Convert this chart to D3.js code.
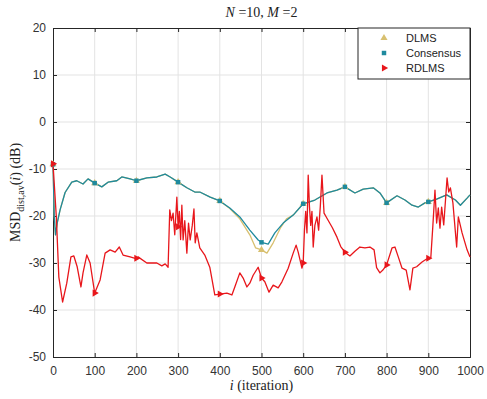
<!DOCTYPE html>
<html>
<head>
<meta charset="utf-8">
<script src="https://cdn.jsdelivr.net/npm/d3@7"></script>
<style>
  body { margin: 0; background: #fff; }
  svg { display: block; }
</style>
</head>
<body>
<div id="chart"></div>
<script>
// values, [iteration, MSD dB]
const consensus = [
  [0, -9], [3, -20], [6, -24], [10, -21.5], [17, -18.7], [29, -15], [45, -12.8], [57, -12.5],
  [72, -13.2], [84, -12.1], [100, -13], [117, -13.8], [132, -12.8], [153, -12.5], [165, -11.7],
  [185, -12.1], [200, -12.5], [225, -11.9], [249, -11.7], [269, -11.1], [281, -11.7], [300, -12.8],
  [321, -14], [340, -14.9], [352, -14.9], [377, -16], [400, -16.8], [424, -18.3], [448, -20.2],
  [472, -23], [492, -25.1], [500, -25.6], [516, -26], [532, -23.6], [552, -21.5], [576, -19.8],
  [600, -17.4], [628, -16.6], [657, -15.1], [681, -14.5], [700, -13.8], [724, -15.1], [744, -14.3],
  [768, -14], [784, -15.1], [800, -17.2], [825, -15.7], [844, -16.6], [861, -17.7], [876, -18.1],
  [892, -17.2], [900, -17], [920, -16.4], [944, -15.5], [965, -16.6], [977, -17.7], [993, -16.2],
  [1000, -15.5]
];

const dlms = [
  [0, -9], [3, -20], [6, -24], [10, -21.5], [17, -18.7], [29, -15], [45, -12.8], [57, -12.5],
  [72, -13.2], [84, -12.1], [100, -13], [117, -13.8], [132, -12.8], [153, -12.5], [165, -11.7],
  [185, -12.1], [200, -12.5], [225, -11.9], [249, -11.7], [269, -11.1], [281, -11.7], [300, -12.8],
  [321, -14], [340, -14.9], [352, -14.9], [377, -16], [400, -16.8], [424, -18.4], [448, -20.6],
  [472, -24], [486, -26.8], [500, -27.2], [513, -27.9], [528, -25.7], [545, -22.6], [560, -20.6],
  [576, -19.8], [600, -17.4], [628, -16.6], [657, -15.1], [681, -14.5], [700, -13.8], [724, -15.1],
  [744, -14.3], [768, -14], [784, -15.1], [800, -17.2], [825, -15.7], [844, -16.6], [861, -17.7],
  [876, -18.1], [892, -17.2], [900, -17], [920, -16.4], [944, -15.5], [965, -16.6], [977, -17.7],
  [993, -16.2], [1000, -15.5]
];

const rdlms = [
  [0, -8.9], [8, -20.2], [14, -33], [23, -38.3], [33, -34.3], [43, -28.7], [50, -28.5], [58, -30.8],
  [67, -35.1], [72, -32.1], [81, -28.3], [89, -30], [100, -36.4], [113, -33.6], [125, -27.9],
  [137, -27.2], [149, -27.7], [159, -26.6], [168, -28.3], [185, -28.7], [197, -29], [200, -29],
  [204, -28.7], [225, -30], [249, -30], [261, -30.6], [269, -30.2], [276, -30.9], [280, -18.7],
  [284, -21], [288, -19.4], [292, -24], [297, -16], [300, -22.3], [303, -19], [306, -25],
  [309, -17.7], [312, -25.1], [316, -21], [321, -27.9], [325, -21.5], [329, -25.1], [334, -22],
  [338, -18.5], [341, -25.7], [345, -23.6], [352, -26.8], [364, -28.3], [376, -30.9], [388, -36.8],
  [400, -36.6], [417, -36.4], [429, -36.8], [436, -35.1], [448, -32.1], [456, -33.2], [465, -35.1],
  [472, -34.3], [480, -32.6], [492, -30.9], [500, -33.2], [508, -34], [518, -36.2], [528, -34.7],
  [540, -35.3], [549, -34], [564, -31.1], [576, -27.9], [583, -26.2], [588, -27.7], [597, -31.1],
  [600, -30], [603, -23], [606, -19], [609, -23.6], [612, -11.3], [615, -18], [618, -22],
  [621, -19], [624, -26.6], [628, -22], [633, -20.2], [637, -23], [641, -18], [645, -11.3],
  [650, -19.4], [659, -20.8], [670, -22.5], [681, -24.5], [690, -26.5], [700, -27.7], [712, -28.5],
  [724, -27.5], [736, -26.6], [748, -26.8], [760, -26.6], [770, -27.2], [776, -31], [784, -32.1],
  [791, -31.5], [800, -30.4], [813, -26.8], [820, -26.6], [828, -28.7], [837, -31.1], [847, -31.5],
  [856, -35.7], [863, -31.1], [872, -30.8], [885, -29.8], [895, -29.2], [900, -29], [906, -28.9],
  [911, -22], [916, -14.5], [920, -21.5], [924, -18.3], [928, -22.6], [932, -18.1], [937, -21.9],
  [945, -11.9], [949, -14.9], [953, -14], [959, -17.2], [968, -26.6], [972, -20.2], [981, -23.6],
  [993, -27.2], [1000, -28.7]
];

const xTicks = [0, 100, 200, 300, 400, 500, 600, 700, 800, 900, 1000];
const yTicks = [-50, -40, -30, -20, -10, 0, 10, 20];
const seriesNames = ["DLMS", "Consensus", "RDLMS"];
const seriesColors = ["#d8c070", "#1f8a9e", "#e8161b"];

const width = 487, height = 399;
const margin = { top: 28, right: 17, bottom: 42, left: 53 };
const w = width - margin.left - margin.right;
const h = height - margin.top - margin.bottom;

const svg = d3.select("#chart").append("svg")
  .attr("width", width)
  .attr("height", height);

const g = svg.append("g")
  .attr("transform", `translate(${margin.left},${margin.top})`);

const x = d3.scaleLinear().domain([0, 1000]).range([0, w]);
const y = d3.scaleLinear().domain([-50, 20]).range([h, 0]);

// grid
g.append("g").selectAll("line.gx").data(xTicks.slice(1, -1)).join("line")
  .attr("x1", d => x(d)).attr("x2", d => x(d))
  .attr("y1", 0).attr("y2", h)
  .attr("stroke", "#e3e3e3").attr("stroke-width", 1);
g.append("g").selectAll("line.gy").data(yTicks.slice(1, -1)).join("line")
  .attr("x1", 0).attr("x2", w)
  .attr("y1", d => y(d)).attr("y2", d => y(d))
  .attr("stroke", "#e3e3e3").attr("stroke-width", 1);

// axes with inward ticks, plain hyphen for negatives
const axisColor = "#262626";
const plain = d => String(d);
g.append("g").attr("transform", `translate(0,${h})`)
  .call(d3.axisBottom(x).tickValues(xTicks).tickSize(-4).tickPadding(9).tickFormat(plain));
g.append("g")
  .call(d3.axisLeft(y).tickValues(yTicks).tickSize(-4).tickPadding(7).tickFormat(plain));
g.append("g")
  .call(d3.axisTop(x).tickValues(xTicks).tickSize(-4).tickFormat(""));
g.append("g").attr("transform", `translate(${w},0)`)
  .call(d3.axisRight(y).tickValues(yTicks).tickSize(-4).tickFormat(""));

g.selectAll(".domain").attr("stroke", axisColor);
g.selectAll(".tick line").attr("stroke", axisColor);
g.selectAll(".tick text")
  .attr("fill", "#333")
  .style("font-family", "Liberation Sans, Arial, sans-serif")
  .style("font-size", "12px");

// lines
const line = d3.line().x(d => x(d[0])).y(d => y(d[1]));
const allSeries = [dlms, consensus, rdlms];

allSeries.forEach((data, k) => {
  g.append("path")
    .datum(data)
    .attr("fill", "none")
    .attr("stroke", seriesColors[k])
    .attr("stroke-width", 1.3)
    .attr("stroke-linejoin", "round")
    .attr("d", line);
});

// markers every 100 iterations
const triUp = d3.symbol().type(d3.symbolTriangle).size(22);
const square = d3.symbol().type(d3.symbolSquare).size(20);
function markerPath(k) {
  return k === 1 ? square() : triUp();
}
function markerRotate(k) {
  return k === 2 ? " rotate(90)" : "";
}

allSeries.forEach((data, k) => {
  g.append("g").selectAll("path")
    .data(data.filter(d => d[0] % 100 === 0 && d[0] < 1000))
    .join("path")
    .attr("d", markerPath(k))
    .attr("transform", d => `translate(${x(d[0])},${y(d[1])})${markerRotate(k)}`)
    .attr("fill", seriesColors[k]);
});

// title
svg.append("text")
  .attr("x", margin.left + w / 2)
  .attr("y", 17)
  .attr("text-anchor", "middle")
  .style("font-family", "Liberation Serif, DejaVu Serif, serif")
  .style("font-size", "14px")
  .attr("fill", "#222")
  .html('<tspan font-style="italic">N</tspan> =10, <tspan font-style="italic">M</tspan> =2');

// x label
svg.append("text")
  .attr("x", margin.left + w / 2)
  .attr("y", 390)
  .attr("text-anchor", "middle")
  .style("font-family", "Liberation Serif, DejaVu Serif, serif")
  .style("font-size", "14px")
  .attr("fill", "#222")
  .html('<tspan font-style="italic">i</tspan> (iteration)');

// y label
svg.append("text")
  .attr("transform", `translate(20,${margin.top + h / 2}) rotate(-90)`)
  .attr("text-anchor", "middle")
  .style("font-family", "Liberation Serif, DejaVu Serif, serif")
  .style("font-size", "14px")
  .attr("fill", "#222")
  .html('MSD<tspan dy="4" font-size="10px">dist,av</tspan><tspan dy="-4">(</tspan><tspan font-style="italic">i</tspan>) (dB)');

// legend
const lg = g.append("g").attr("transform", `translate(${w - 112},0)`);
lg.append("rect")
  .attr("width", 112).attr("height", 51)
  .attr("fill", "#fff").attr("stroke", axisColor).attr("stroke-width", 1);
seriesNames.forEach((name, k) => {
  const ly = 10 + k * 15;
  lg.append("path")
    .attr("d", markerPath(k))
    .attr("transform", `translate(26,${ly})${markerRotate(k)}`)
    .attr("fill", seriesColors[k]);
  lg.append("text")
    .attr("x", 48).attr("y", ly + 4)
    .style("font-family", "Liberation Sans, Arial, sans-serif")
    .style("font-size", "11px")
    .attr("fill", "#222")
    .text(name);
});
</script>
</body>
</html>
